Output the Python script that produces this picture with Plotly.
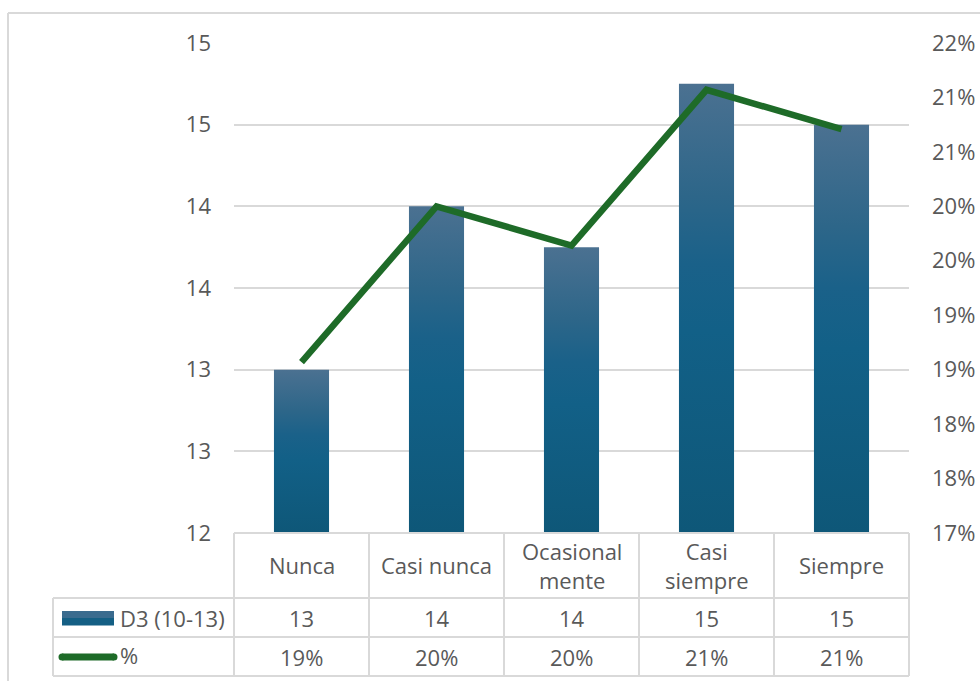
import plotly.graph_objects as go

# ---- data ----
categories = ["Nunca", "Casi nunca", "Ocasionalmente", "Casi siempre", "Siempre"]
category_labels = ["Nunca", "Casi nunca", "Ocasional<br>mente", "Casi<br>siempre", "Siempre"]
d3_values = [13.0, 14.0, 13.75, 14.75, 14.5]
pct_values = [18.57, 20.00, 19.64, 21.07, 20.71]  # percent
left_tickvals = [12, 12.5, 13, 13.5, 14, 14.5, 15]
left_ticktext = ["12", "13", "13", "14", "14", "15", "15"]
right_tickvals = [17, 17.5, 18, 18.5, 19, 19.5, 20, 20.5, 21, 21.5]
right_ticktext = ["17%", "18%", "18%", "19%", "19%", "20%", "20%", "21%", "21%", "22%"]
series_names = ["D3 (10-13)", "%"]

def half_up(v):
    return int(v + 0.5)

d3_table = [str(half_up(v)) for v in d3_values]
pct_table = [f"{half_up(v)}%" for v in pct_values]

# ---- geometry / style ----
W, H = 980, 681
L, R, T, B = 234, 909, 43, 533
FONT = "Open Sans"
TXT = "#595959"
GRID = "#d9d9d9"
BAR_SCALE = [[0, "#0e5778"], [0.45, "#126087"], [0.6, "#1a6189"],
             [0.75, "#2d6689"], [1, "#4b7191"]]
LINE_COLOR = "#1e6b28"
FS = 22

def px(xp):
    return (xp - L) / (R - L)

def py(yp):
    return (B - yp) / (B - T)

fig = go.Figure()

half_w = 0.204
for i, v in enumerate(d3_values):
    fig.add_trace(go.Scatter(
        x=[i - half_w, i + half_w, i + half_w, i - half_w, i - half_w],
        y=[12, 12, v, v, 12],
        mode="lines", fill="toself",
        fillgradient=dict(type="vertical", colorscale=BAR_SCALE),
        line=dict(width=0, color="rgba(0,0,0,0)"),
        name=series_names[0], showlegend=False, hoverinfo="skip",
    ))

fig.add_trace(go.Scatter(
    x=list(range(len(categories))), y=pct_values, yaxis="y2",
    mode="lines", line=dict(color=LINE_COLOR, width=6.5),
    name=series_names[1], showlegend=False,
))

fig.update_layout(
    width=W, height=H, autosize=False,
    margin=dict(l=L, r=W - R, t=T, b=H - B, pad=0, autoexpand=False),
    paper_bgcolor="white", plot_bgcolor="white",
    font=dict(family=FONT, size=FS, color=TXT),
    showlegend=False,
    xaxis=dict(range=[-0.5, len(categories) - 0.5], showticklabels=False,
               showgrid=False, zeroline=False, showline=False, fixedrange=True,
               automargin=False),
    yaxis=dict(range=[12, 15], tickvals=left_tickvals, ticktext=left_ticktext,
               showgrid=True, gridcolor=GRID, gridwidth=1.5, zeroline=False,
               showline=False, ticks="", ticklabelstandoff=22, automargin=False,
               tickfont=dict(size=FS, color=TXT)),
    yaxis2=dict(range=[17, 21.5], tickvals=right_tickvals, ticktext=right_ticktext,
                overlaying="y", side="right", showgrid=False, zeroline=False,
                showline=False, ticks="", ticklabelstandoff=22, automargin=False,
                tickfont=dict(size=FS, color=TXT)),
)

shapes = []
line_style = dict(color=GRID, width=2)
# chart border (top / left)
shapes.append(dict(type="line", xref="paper", yref="paper", x0=px(8), x1=px(990), y0=py(13), y1=py(13), line=line_style))
shapes.append(dict(type="line", xref="paper", yref="paper", x0=px(8), x1=px(8), y0=py(13), y1=py(690), line=line_style))
# data table lines
for yl, xl in [(533, L), (598, 53), (637, 53), (676, 53)]:
    shapes.append(dict(type="line", xref="paper", yref="paper", x0=px(xl), x1=px(R), y0=py(yl), y1=py(yl), line=line_style))
for xv in [L, 369, 504, 639, 774, R]:
    shapes.append(dict(type="line", xref="paper", yref="paper", x0=px(xv), x1=px(xv), y0=py(533), y1=py(676), line=line_style))
shapes.append(dict(type="line", xref="paper", yref="paper", x0=px(53), x1=px(53), y0=py(598), y1=py(676), line=line_style))
# legend keys
shapes.append(dict(type="rect", xref="paper", yref="paper", x0=px(62), x1=px(114), y0=py(611), y1=py(618), fillcolor="#3a6b8e", line=dict(width=0)))
shapes.append(dict(type="rect", xref="paper", yref="paper", x0=px(62), x1=px(114), y0=py(618), y1=py(625.5), fillcolor="#145f84", line=dict(width=0)))
shapes.append(dict(type="line", xref="paper", yref="paper", x0=px(62), x1=px(114), y0=py(657), y1=py(657), line=dict(color=LINE_COLOR, width=7)))
for cx in (62, 114):
    shapes.append(dict(type="circle", xref="paper", yref="paper", x0=px(cx - 3.5), x1=px(cx + 3.5), y0=py(660.5), y1=py(653.5), fillcolor=LINE_COLOR, line=dict(width=0)))

annotations = []
for i, lab in enumerate(category_labels):
    annotations.append(dict(x=i, y=py(565), xref="x", yref="paper", text=lab, showarrow=False,
                            font=dict(size=FS, color=TXT), xanchor="center", yanchor="middle"))
    annotations.append(dict(x=i, y=py(617.5), xref="x", yref="paper", text=d3_table[i], showarrow=False,
                            font=dict(size=FS, color=TXT), xanchor="center", yanchor="middle"))
    annotations.append(dict(x=i, y=py(656.5), xref="x", yref="paper", text=pct_table[i], showarrow=False,
                            font=dict(size=FS, color=TXT), xanchor="center", yanchor="middle"))
annotations.append(dict(x=px(118), y=py(617.5), xref="paper", yref="paper", text=series_names[0], showarrow=False,
                        font=dict(size=FS, color=TXT), xanchor="left", yanchor="middle"))
annotations.append(dict(x=px(118), y=py(654.5), xref="paper", yref="paper", text=series_names[1], showarrow=False,
                        font=dict(size=FS, color=TXT), xanchor="left", yanchor="middle"))

fig.update_layout(shapes=shapes, annotations=annotations)
fig.write_html("out.html", config={"displayModeBar": False},
               post_script="document.body.style.margin='0px';")
